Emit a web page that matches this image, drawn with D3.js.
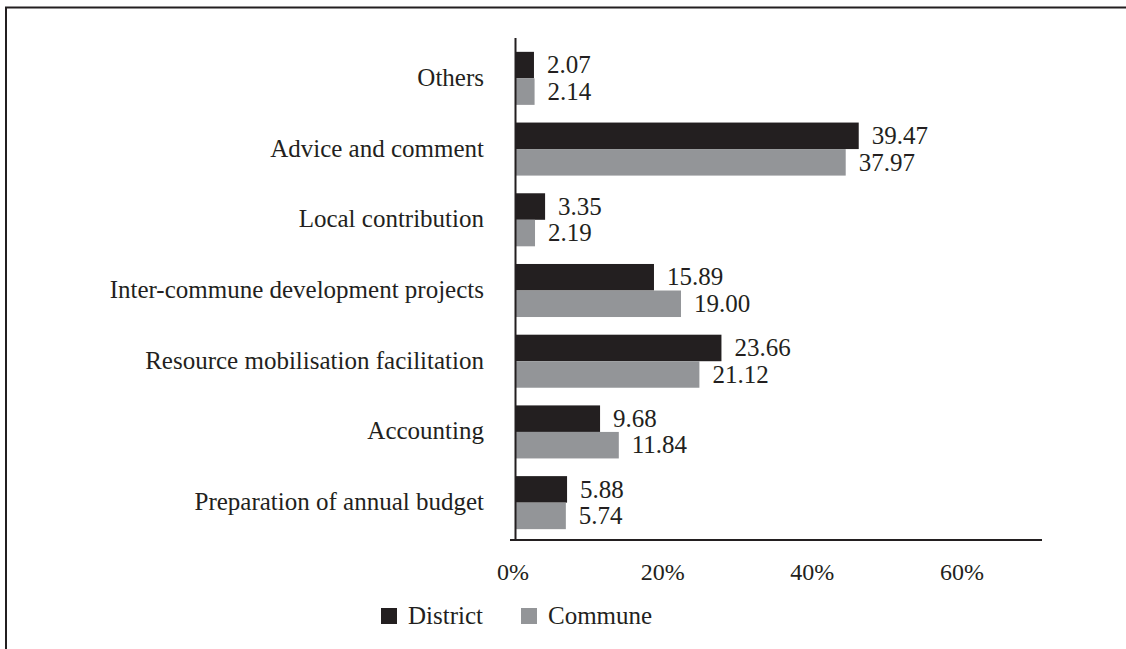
<!DOCTYPE html>
<html>
<head>
<meta charset="utf-8">
<script src="https://cdn.jsdelivr.net/npm/d3@7"></script>
<style>
  body { margin: 0; background: #fff; }
  svg text { font-family: "Liberation Serif", "Times New Roman", serif; fill: #231f20; }
</style>
</head>
<body>
<svg id="chart"></svg>
<script>
// categories top to bottom
const categories = ['Others', 'Advice and comment', 'Local contribution',
  'Inter-commune development projects', 'Resource mobilisation facilitation',
  'Accounting', 'Preparation of annual budget'];
const district = [2.07, 39.47, 3.35, 15.89, 23.66, 9.68, 5.88];
const commune = [2.14, 37.97, 2.19, 19.00, 21.12, 11.84, 5.74];
const tickValues = [0, 20, 40, 60];
const seriesNames = ['District', 'Commune'];
const seriesColors = ['#231f20', '#939598'];

const width = 1126, height = 649;
const fontSize = 25;
const svg = d3.select('#chart').attr('width', width).attr('height', height);

// outer frame (only left and top edges are visible in the picture)
svg.append('path')
  .attr('d', `M6,${height} V7.5 H${width}`)
  .attr('fill', 'none')
  .attr('stroke', '#231f20')
  .attr('stroke-width', 2);

const x = d3.scaleLinear().domain([0, 60]).range([516, 1037]);
// tick labels sit evenly spaced, a bit tighter than the bars
const xLabel = d3.scaleLinear().domain([0, 60]).range([513, 962]);

const y = d3.scaleBand().domain(categories).range([43, 538])
  .paddingInner(0.25).paddingOuter(0.125);
const sub = d3.scaleBand().domain(seriesNames).range([0, y.bandwidth()]);

const rows = categories.map((c, i) => ({ cat: c, values: [district[i], commune[i]] }));

const g = svg.append('g');

const groups = g.selectAll('.row').data(rows).join('g')
  .attr('class', 'row')
  .attr('transform', d => `translate(0,${y(d.cat)})`);

groups.selectAll('rect').data(d => d.values.map((v, i) => ({ v, s: seriesNames[i], i })))
  .join('rect')
    .attr('x', x(0))
    .attr('y', d => sub(d.s))
    .attr('width', d => x(d.v) - x(0))
    .attr('height', sub.bandwidth())
    .attr('fill', d => seriesColors[d.i]);

groups.selectAll('.val').data(d => d.values.map((v, i) => ({ v, s: seriesNames[i], i })))
  .join('text')
    .attr('class', 'val')
    .attr('x', d => x(d.v) + 13)
    .attr('y', d => sub(d.s) + sub.bandwidth() / 2)
    .attr('dy', '0.33em')
    .attr('font-size', fontSize)
    .text(d => d3.format('.2f')(d.v));

// category labels
g.selectAll('.cat').data(categories).join('text')
  .attr('class', 'cat')
  .attr('x', 484)
  .attr('y', d => y(d) + y.bandwidth() / 2)
  .attr('dy', '0.3em')
  .attr('text-anchor', 'end')
  .attr('font-size', fontSize)
  .text(d => d);

// axes lines
g.append('line')
  .attr('x1', 515.5).attr('x2', 515.5)
  .attr('y1', 38).attr('y2', 541)
  .attr('stroke', '#231f20').attr('stroke-width', 2);
g.append('line')
  .attr('x1', 510).attr('x2', 1042)
  .attr('y1', 540).attr('y2', 540)
  .attr('stroke', '#231f20').attr('stroke-width', 2);

// x tick labels
g.selectAll('.tick-label').data(tickValues).join('text')
  .attr('class', 'tick-label')
  .attr('x', d => xLabel(d))
  .attr('y', 580)
  .attr('text-anchor', 'middle')
  .attr('font-size', 24)
  .text(d => d + '%');

// legend
const legend = svg.append('g').selectAll('g').data(seriesNames).join('g')
  .attr('transform', (d, i) => `translate(${[381, 521][i]},608)`);
legend.append('rect')
  .attr('width', 16).attr('height', 16)
  .attr('fill', (d, i) => seriesColors[i]);
legend.append('text')
  .attr('x', 27)
  .attr('y', 8)
  .attr('dy', '0.33em')
  .attr('font-size', fontSize)
  .text(d => d);
</script>
</body>
</html>
